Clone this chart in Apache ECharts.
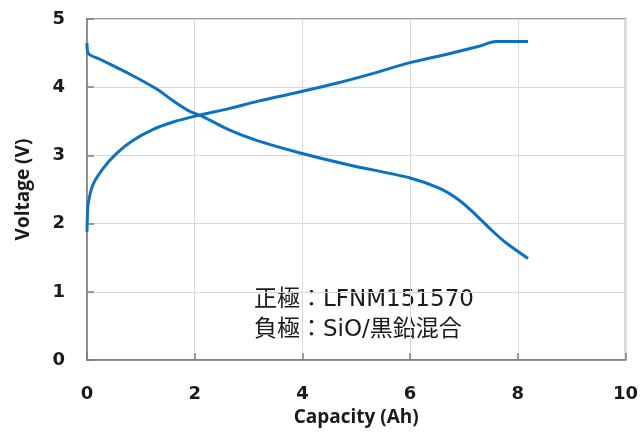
<!DOCTYPE html>
<html><head><meta charset="utf-8">
<script src="https://cdn.jsdelivr.net/npm/echarts@6/dist/echarts.min.js"></script>
<style>html,body{margin:0;padding:0;background:#fff}#c{width:641px;height:432px}</style>
</head><body><div id="c"></div>
<script>
// Charge curve (rising)
const chargeCap = [0, 0.005, 0.02, 0.11, 0.3, 0.55, 0.85, 1.22, 1.6, 2.03, 2.65, 3.2, 3.94, 4.69, 5.3, 6.0, 6.72, 7.28, 7.59, 8.02, 8.19];
const chargeV   = [1.88, 2.05, 2.28, 2.57, 2.81, 3.03, 3.22, 3.38, 3.49, 3.58, 3.69, 3.8, 3.93, 4.07, 4.2, 4.36, 4.49, 4.6, 4.67, 4.67, 4.67];
// Discharge curve (falling)
const dischCap = [0, 0.02, 0.24, 0.8, 1.3, 1.6, 1.9, 2.15, 2.65, 3.15, 3.94, 4.87, 6.0, 6.54, 6.9, 7.22, 7.52, 7.78, 8.19];
const dischV   = [4.65, 4.5, 4.41, 4.19, 3.97, 3.8, 3.65, 3.57, 3.37, 3.22, 3.04, 2.86, 2.67, 2.52, 2.35, 2.13, 1.9, 1.72, 1.49];
const xTicks = [0, 2, 4, 6, 8, 10];
const yTicks = [0, 1, 2, 3, 4, 5];
const xTitle = 'Capacity (Ah)';
const yTitle = 'Voltage (V)';
const note1 = '正極：LFNM151570';
const note2 = '負極：SiO/黒鉛混合';

const zip = (a, b) => a.map((v, i) => [v, b[i]]);
const chart = echarts.init(document.getElementById('c'), null, {renderer: 'canvas'});
const lblFont = {fontFamily: '"DejaVu Sans", "Noto Sans", sans-serif', fontWeight: 'bold', fontSize: 18, color: '#1a1a1a'};
const titleFont = {fontFamily: '"Open Sans", "Noto Sans", sans-serif', fontWeight: 'bold', fontSize: 19, color: '#1a1a1a'};
chart.setOption({
  animation: false,
  grid: {left: 87, right: 14, top: 19, bottom: 68, show: true, borderColor: '#7f7f7f', borderWidth: 1.5, backgroundColor: 'transparent'},
  xAxis: {
    type: 'value', min: xTicks[0], max: xTicks[xTicks.length - 1], interval: 2,
    name: xTitle, nameLocation: 'middle', nameGap: 44, nameTextStyle: titleFont,
    axisLine: {show: true, lineStyle: {color: '#7f7f7f', width: 1.5}},
    axisTick: {show: true, inside: true, length: 7, lineStyle: {color: '#7f7f7f', width: 1.5}},
    axisLabel: Object.assign({margin: 25}, lblFont),
    splitLine: {show: true, lineStyle: {color: '#d9d9d9', width: 1}}
  },
  yAxis: {
    type: 'value', min: yTicks[0], max: yTicks[yTicks.length - 1], interval: 1,
    name: yTitle, nameLocation: 'middle', nameGap: 54, nameRotate: 90, nameTextStyle: titleFont,
    axisLine: {show: true, lineStyle: {color: '#7f7f7f', width: 1.5}},
    axisTick: {show: true, inside: true, length: 7, lineStyle: {color: '#7f7f7f', width: 1.5}},
    axisLabel: Object.assign({margin: 22}, lblFont),
    splitLine: {show: true, lineStyle: {color: '#d9d9d9', width: 1}}
  },
  series: [
    {type: 'line', data: zip(chargeCap, chargeV), showSymbol: false, smooth: 0.3,
     lineStyle: {color: '#0a72c4', width: 3}},
    {type: 'line', data: zip(dischCap, dischV), showSymbol: false, smooth: 0.3,
     lineStyle: {color: '#0a72c4', width: 3}}
  ],
  graphic: [
    {type: 'text', left: 254, top: 285, style: {text: note1 + '\n' + note2, fontFamily: '"DejaVu Sans", "Noto Sans CJK JP", sans-serif', fontSize: 23, lineHeight: 30, fill: '#1a1a1a'}}
  ]
});
</script></body></html>
